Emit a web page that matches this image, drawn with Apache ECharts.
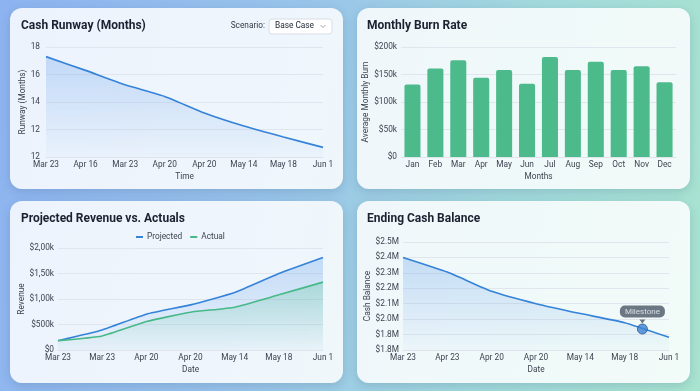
<!DOCTYPE html>
<html><head><meta charset="utf-8">
<script src="https://cdn.jsdelivr.net/npm/echarts@6/dist/echarts.min.js"></script>
<style>
html,body{margin:0;padding:0;width:700px;height:391px;overflow:hidden;}
body{background:linear-gradient(100deg,#8db3f0 0%,#99c4ea 40%,#a2d9dc 70%,#a8e4cf 100%);position:relative;font-family:Roboto,sans-serif;}
.card{position:absolute;border-radius:12px;background:rgba(255,255,255,0.84);box-shadow:0 3px 10px rgba(40,70,110,0.18);}
#chart{position:absolute;left:0;top:0;width:700px;height:391px;}
</style></head>
<body>
<div class="card" style="left:10px;top:8px;width:333px;height:181px"></div>
<div class="card" style="left:357px;top:8px;width:333px;height:181px"></div>
<div class="card" style="left:10px;top:201px;width:333px;height:182px"></div>
<div class="card" style="left:357px;top:201px;width:333px;height:182px"></div>
<div id="chart"></div>
<script>
// ---- data ----
const runwayDates = ['Mar 23','Apr 16','Mar 23','Apr 20','Apr 20','May 14','May 18','Jun 1'];
const runwayValues = [17.3, 16.3, 15.25, 14.4, 13.2, 12.25, 11.45, 10.7];
const runwayTickLabels = ['12','12','14','16','18']; // for 10,12,14,16,18

const burnMonths = ['Jan','Feb','Mar','Apr','May','Jun','Jul','Aug','Sep','Oct','Nov','Dec'];
const burnValues = [132, 161, 176, 144, 158, 133, 182, 158, 173, 158, 165, 136]; // $k
const burnTickLabels = ['$0','$50k','$100k','$150k','$200k'];

const revenueDates = ['Mar 23','Mar 23','Apr 20','Apr 20','May 14','May 18','Jun 1'];
const projectedValues = [183, 393, 702, 885, 1127, 1500, 1815]; // $k
const actualValues = [183, 275, 557, 741, 840, 1082, 1331];
const revenueTickLabels = ['$0','$500k','$1,00k','$1,50k','$2,00k'];

const cashDates = ['Mar 23','Apr 23','Apr 20','Apr 20','May 14','May 18','Jun 1'];
const cashValues = [2400, 2305, 2180, 2100, 2036, 1977, 1882]; // $k
const cashTickLabels = ['$1.8M','$1.8M','$2.0M','$2.1M','$2.2M','$2.3M','$2.4M','$2.5M'];
const milestonePos = 5.4;
const milestoneValue = 1936;

// ---- styles ----
const FONT = 'Roboto';
const tickStyle = {fontSize: 8.3, color: '#3d4450', fontFamily: FONT};
const nameStyle = {fontSize: 8.3, color: '#3d4450', fontFamily: FONT};
const titleStyle = {fontSize: 12, fontWeight: 'bold', color: '#1b2130', fontFamily: FONT};
const gridLine = {show: true, lineStyle: {color: '#e1e6ee', width: 1}};
const baseLine = {show: true, lineStyle: {color: '#dfe4ec', width: 1}};
const BLUE = '#3483d9';
const GREEN = '#47b887';

function blueArea(a0, a1){
  return {color: new echarts.graphic.LinearGradient(0,0,0,1,[{offset:0,color:'rgba(60,135,230,'+a0+')'},{offset:1,color:'rgba(60,135,230,'+a1+')'}])};
}
function greenArea(a0, a1){
  return {color: new echarts.graphic.LinearGradient(0,0,0,1,[{offset:0,color:'rgba(60,185,130,'+a0+')'},{offset:1,color:'rgba(60,185,130,'+a1+')'}])};
}

const chart = echarts.init(document.getElementById('chart'), null, {renderer: 'canvas'});

const option = {
  backgroundColor: 'transparent',
  animation: false,
  title: [
    {text: 'Cash Runway (Months)', left: 21, top: 19.5, padding: 0, textStyle: titleStyle},
    {text: 'Monthly Burn Rate', left: 367, top: 19.5, padding: 0, textStyle: titleStyle},
    {text: 'Projected Revenue vs. Actuals', left: 21, top: 212.5, padding: 0, textStyle: titleStyle},
    {text: 'Ending Cash Balance', left: 367, top: 212.5, padding: 0, textStyle: titleStyle}
  ],
  legend: {
    left: 136, top: 233, itemWidth: 7, itemHeight: 2, itemGap: 8, padding: 0,
    textStyle: {fontSize: 8.3, color: '#3d4450', fontFamily: FONT, padding: [0,0,0,-1]},
    data: [{name: 'Projected', icon: 'rect'}, {name: 'Actual', icon: 'rect'}]
  },
  grid: [
    {left: 46, top: 47, width: 277, height: 110},
    {left: 401, top: 47, width: 275, height: 110},
    {left: 58, top: 248, width: 265, height: 102},
    {left: 403, top: 242, width: 266, height: 108}
  ],
  xAxis: [
    {gridIndex: 0, type: 'category', data: runwayDates, boundaryGap: false,
     axisLine: baseLine, axisTick: {show: false}, axisLabel: Object.assign({margin: 4, interval: 0}, tickStyle),
     name: 'Time', nameLocation: 'middle', nameGap: 16, nameTextStyle: nameStyle},
    {gridIndex: 1, type: 'category', data: burnMonths,
     axisLine: baseLine, axisTick: {show: false}, axisLabel: Object.assign({margin: 4, interval: 0}, tickStyle),
     name: 'Months', nameLocation: 'middle', nameGap: 16, nameTextStyle: nameStyle},
    {gridIndex: 2, type: 'category', data: revenueDates, boundaryGap: false,
     axisLine: baseLine, axisTick: {show: false}, axisLabel: Object.assign({margin: 4, interval: 0}, tickStyle),
     name: 'Date', nameLocation: 'middle', nameGap: 16, nameTextStyle: nameStyle},
    {gridIndex: 3, type: 'value', min: 0, max: cashDates.length - 1, interval: 1,
     splitLine: {show: false},
     axisLine: baseLine, axisTick: {show: false},
     axisLabel: Object.assign({margin: 4, formatter: v => cashDates[Math.round(v)]}, tickStyle),
     name: 'Date', nameLocation: 'middle', nameGap: 16, nameTextStyle: nameStyle}
  ],
  yAxis: [
    {gridIndex: 0, type: 'value', min: 10, max: 18, interval: 2,
     splitLine: gridLine, axisLine: {show: false}, axisTick: {show: false},
     axisLabel: Object.assign({margin: 6, formatter: v => runwayTickLabels[Math.round((v - 10) / 2)]}, tickStyle),
     name: 'Runway (Months)', nameLocation: 'middle', nameGap: 15, nameTextStyle: nameStyle},
    {gridIndex: 1, type: 'value', min: 0, max: 200, interval: 50,
     splitLine: gridLine, axisLine: {show: false}, axisTick: {show: false},
     axisLabel: Object.assign({margin: 4, formatter: v => burnTickLabels[Math.round(v / 50)]}, tickStyle),
     name: 'Average Monthly Burn', nameLocation: 'middle', nameGap: 22, nameTextStyle: nameStyle},
    {gridIndex: 2, type: 'value', min: 0, max: 2000, interval: 500,
     splitLine: gridLine, axisLine: {show: false}, axisTick: {show: false},
     axisLabel: Object.assign({margin: 4, formatter: v => revenueTickLabels[Math.round(v / 500)]}, tickStyle),
     name: 'Revenue', nameLocation: 'middle', nameGap: 26, nameTextStyle: nameStyle},
    {gridIndex: 3, type: 'value', min: 1800, max: 2500, interval: 100,
     splitLine: gridLine, axisLine: {show: false}, axisTick: {show: false},
     axisLabel: Object.assign({margin: 4, formatter: v => cashTickLabels[Math.round((v - 1800) / 100)]}, tickStyle),
     name: 'Cash Balance', nameLocation: 'middle', nameGap: 25, nameTextStyle: nameStyle}
  ],
  series: [
    {type: 'line', xAxisIndex: 0, yAxisIndex: 0, data: runwayValues, smooth: 0.15,
     symbol: 'none', lineStyle: {color: BLUE, width: 1.6}, areaStyle: blueArea(0.35, 0.03)},
    {type: 'bar', xAxisIndex: 1, yAxisIndex: 1, data: burnValues, barWidth: '70%',
     itemStyle: {color: '#4dba8c', borderRadius: [2, 2, 0, 0]}},
    {name: 'Projected', type: 'line', xAxisIndex: 2, yAxisIndex: 2, data: projectedValues, smooth: 0.15,
     symbol: 'none', color: BLUE, lineStyle: {color: BLUE, width: 1.6}, areaStyle: blueArea(0.35, 0.03)},
    {name: 'Actual', type: 'line', xAxisIndex: 2, yAxisIndex: 2, data: actualValues, smooth: 0.15,
     symbol: 'none', color: GREEN, lineStyle: {color: GREEN, width: 1.6}, areaStyle: greenArea(0.35, 0.02)},
    {type: 'line', xAxisIndex: 3, yAxisIndex: 3, data: cashValues.map((v, i) => [i, v]), smooth: 0.15,
     symbol: 'none', lineStyle: {color: BLUE, width: 1.6}, areaStyle: blueArea(0.35, 0.03)},
    {type: 'scatter', xAxisIndex: 3, yAxisIndex: 3, data: [[milestonePos, milestoneValue]],
     symbol: 'triangle', symbolRotate: 180, symbolSize: [6, 4], symbolOffset: [0, -7.5],
     itemStyle: {color: '#4b5667'}, z: 5},
    {type: 'scatter', xAxisIndex: 3, yAxisIndex: 3, data: [[milestonePos, milestoneValue]],
     symbolSize: 10, itemStyle: {color: '#3b82d6', borderColor: '#2b5790', borderWidth: 1}, z: 6,
     label: {show: true, formatter: 'Milestone', position: 'top', distance: 6,
       backgroundColor: '#4b5667', borderRadius: 5, padding: [2, 5, 2, 5],
       color: '#eef2f7', fontSize: 8, fontFamily: FONT}}
  ],
  graphic: [
    {type: 'text', right: 700 - 265, top: 21.5, style: {text: 'Scenario:', fontSize: 8.3, fontFamily: FONT, fill: '#333a45'}},
    {type: 'rect', shape: {x: 269, y: 19, width: 63, height: 15, r: 3},
     style: {fill: '#ffffff', stroke: '#d8dde6', lineWidth: 1}},
    {type: 'text', left: 275, top: 21.5, style: {text: 'Base Case', fontSize: 8.3, fontFamily: FONT, fill: '#222834'}},
    {type: 'polyline', shape: {points: [[320.5, 25], [323, 27.5], [325.5, 25]]},
     style: {stroke: '#8a909a', lineWidth: 0.8, fill: null}}
  ]
};
chart.setOption(option);
</script>
</body></html>
